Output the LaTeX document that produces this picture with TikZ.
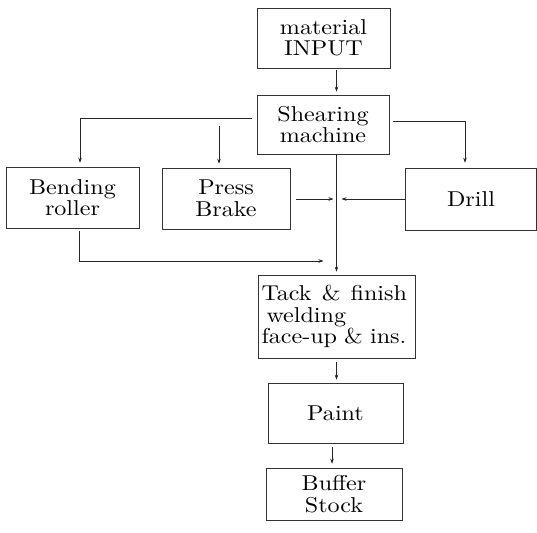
\documentclass[tikz,border=0pt]{standalone}
\usepackage{fontspec}
\setmainfont{lmroman10-regular.otf}[FakeStretch=1.12]
\usetikzlibrary{arrows.meta}
\begin{document}
\begin{tikzpicture}[x=1pt,y=-1pt,
  box/.style={rectangle, draw=black!80, line width=0.6pt, inner sep=0pt,
    font=\fontsize{21.5}{21.5}\selectfont, align=center},
  flow/.style={draw=black!85, line width=0.55pt, -{Stealth[length=5pt,width=3.5pt]}},
  link/.style={draw=black!85, line width=0.55pt}]
\useasboundingbox (0,0) rectangle (537,532);
% nodes
\node[box, minimum width=133pt, minimum height=60pt] (mat) at (323.5,38) {material\\INPUT};
\node[box, minimum width=132pt, minimum height=59pt] (shear) at (323,124.5) {Shearing\\machine};
\node[box, minimum width=133pt, minimum height=61pt] (bend) at (72.5,197.5) {Bending\\roller};
\node[box, minimum width=128pt, minimum height=61pt] (press) at (226,198.5) {Press\\Brake};
\node[box, minimum width=131pt, minimum height=62pt] (drill) at (471,199) {Drill};
\node[box, minimum width=157pt, minimum height=83pt, text width=150pt, inner xsep=3.5pt, align=left] (tack) at (336.5,316.5) {Tack\hspace{3pt} \&\hspace{3pt} finish\\\hspace{5pt}welding\\face-up \& ins.};
\node[box, minimum width=135pt, minimum height=60pt] (paint) at (335.5,413) {Paint};
\node[box, minimum width=136pt, minimum height=52pt] (buffer) at (334,494) {Buffer\\Stock};
% helper coordinates
\coordinate (spine) at (336.5,0);
\coordinate (sp2) at (332,0);
\coordinate (lb) at (80,118);
\coordinate (rb) at (465,121);
\coordinate (pa) at (219,126);
\coordinate (join) at (336.5,199);
\coordinate (bc) at (79,261);
% connectors
\draw[flow, shorten <=2pt, shorten >=3pt] (mat.south -| spine) -- (shear.north -| spine);
\draw[flow, shorten >=4pt] ([xshift=-5pt]shear.west |- lb) -- (lb) -- (bend.north -| lb);
\draw[flow, shorten >=4pt] (pa) -- (press.north -| pa);
\draw[flow, shorten >=5pt] ([xshift=4pt]shear.east |- rb) -- (rb) -- (drill.north -| rb);
\draw[flow, shorten >=3pt] (shear.south -| spine) -- (tack.north -| spine);
\draw[flow, shorten <=6pt, shorten >=3pt] (press.east |- join) -- (join);
\draw[flow, shorten >=5pt] (drill.west |- join) -- (join);
\draw[flow, shorten <=3pt, shorten >=13pt] (bend.south -| bc) -- (bc) -- (bc -| spine);
\draw[flow, shorten <=4pt, shorten >=3pt] (tack.south -| spine) -- (paint.north -| spine);
\draw[flow, shorten <=4pt, shorten >=4pt] (paint.south -| sp2) -- (buffer.north -| sp2);
\end{tikzpicture}
\end{document}
